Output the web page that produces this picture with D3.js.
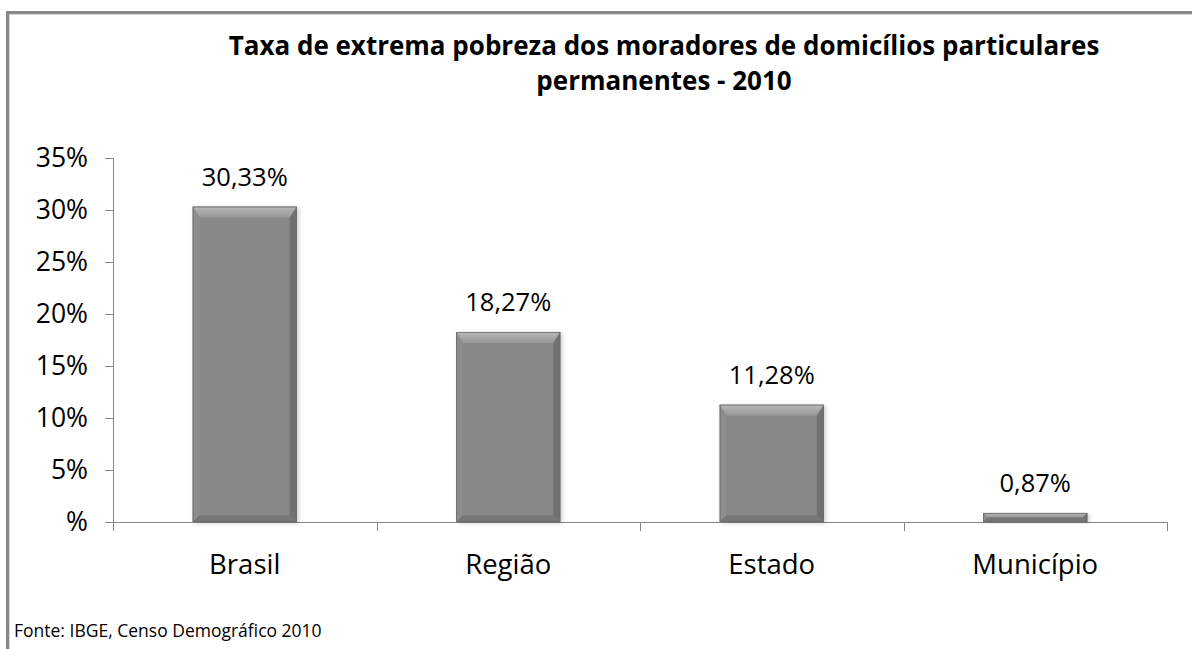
<!DOCTYPE html>
<html><head><meta charset="utf-8">
<script src="https://cdn.jsdelivr.net/npm/d3@7"></script>
<style>body{margin:0;background:#fff}svg{display:block}</style>
</head><body>
<svg id="c" width="1192" height="649"></svg>
<script>
const categories = ["Brasil", "Região", "Estado", "Município"];
const values = [30.33, 18.27, 11.28, 0.87];
const valueLabels = ["30,33%", "18,27%", "11,28%", "0,87%"];
const yTicks = [0, 5, 10, 15, 20, 25, 30, 35];
const yTickLabels = ["%", "5%", "10%", "15%", "20%", "25%", "30%", "35%"];
const titleLines = ["Taxa de extrema pobreza dos moradores de domicílios particulares", "permanentes - 2010"];
const source = "Fonte: IBGE, Censo Demográfico 2010";

const svg = d3.select("#c");
const font = "'Open Sans', 'Noto Sans', sans-serif";

// frame
svg.append("rect").attr("x", 7.5).attr("y", 12.5).attr("width", 1300).attr("height", 800)
  .attr("fill", "none").attr("stroke", "#888").attr("stroke-width", 3);
svg.append("rect").attr("x", 9.5).attr("y", 14.5).attr("width", 1300).attr("height", 800)
  .attr("fill", "none").attr("stroke", "#d8d8d8").attr("stroke-width", 1);

const L = 113, R = 1167, T = 158, B = 522;
const x = d3.scaleBand().domain(categories).range([L, R]).paddingInner(0.605).paddingOuter(0.3025);
const y = d3.scaleLinear().domain([0, 35]).range([B, T]);

// title
svg.append("g").selectAll("text").data(titleLines).join("text")
  .attr("x", 664).attr("y", (d, i) => 55 + i * 35)
  .attr("text-anchor", "middle").attr("font-family", font).attr("font-weight", "bold")
  .attr("font-size", 26).attr("fill", "#000").text(d => d);

// y axis
const yAxis = d3.axisLeft(y).tickValues(yTicks).tickSize(8).tickPadding(17)
  .tickFormat((d, i) => yTickLabels[i]);
const gy = svg.append("g").attr("transform", `translate(${L},0)`).call(yAxis);
gy.select(".domain").attr("stroke", "#868686");
gy.selectAll(".tick line").attr("stroke", "#868686");
gy.selectAll(".tick text").attr("font-family", font).attr("font-size", 26.5).attr("fill", "#000");

// x axis
const xb = d3.scaleLinear().domain([0, categories.length]).range([L, R]);
svg.append("line").attr("x1", L - 8).attr("x2", R).attr("y1", B + 0.5).attr("y2", B + 0.5)
  .attr("stroke", "#868686");
svg.append("g").selectAll("line").data(d3.range(categories.length + 1)).join("line")
  .attr("x1", d => Math.round(xb(d)) + 0.5).attr("x2", d => Math.round(xb(d)) + 0.5)
  .attr("y1", B).attr("y2", B + 9).attr("stroke", "#868686");
svg.append("g").selectAll("text").data(categories).join("text")
  .attr("x", d => x(d) + x.bandwidth() / 2).attr("y", 574)
  .attr("text-anchor", "middle").attr("font-family", font).attr("font-size", 27.5)
  .attr("fill", "#000").text(d => d);

// defs
const defs = svg.append("defs");
const f = defs.append("filter").attr("id", "sh").attr("x", "-10%").attr("y", "-10%").attr("width", "130%").attr("height", "130%");
f.append("feDropShadow").attr("dx", 2).attr("dy", 1).attr("stdDeviation", 2).attr("flood-color", "#000").attr("flood-opacity", 0.2);
const gt = defs.append("linearGradient").attr("id", "gtop").attr("x1", 0).attr("y1", 0).attr("x2", 0).attr("y2", 1);
gt.append("stop").attr("offset", 0).attr("stop-color", "#b8b8b8");
gt.append("stop").attr("offset", 1).attr("stop-color", "#989898");

// bars with bevel
const bw = x.bandwidth();
const gb = svg.append("g").selectAll("g").data(values).join("g")
  .attr("transform", (d, i) => `translate(${x(categories[i])},${y(d)})`);
gb.append("rect").attr("width", bw).attr("height", (d) => B - y(d))
  .attr("fill", "#878787").attr("filter", "url(#sh)");
gb.each(function(d) {
  const h = B - y(d);
  const bt = Math.min(11, h / 2), bs = Math.min(7, h / 2), bb = Math.min(7, h / 2);
  const g = d3.select(this);
  const pts = (a) => a.map(p => p.join(",")).join(" ");
  g.append("polygon").attr("points", pts([[0,0],[bw,0],[bw-bs,bt],[bs,bt]])).attr("fill", "url(#gtop)");
  g.append("polygon").attr("points", pts([[0,0],[bs,bt],[bs,h-bb],[0,h]])).attr("fill", "#8d8d8d");
  g.append("polygon").attr("points", pts([[bw,0],[bw,h],[bw-bs,h-bb],[bw-bs,bt]])).attr("fill", "#707070");
  g.append("polygon").attr("points", pts([[0,h],[bs,h-bb],[bw-bs,h-bb],[bw,h]])).attr("fill", "#777777");
  g.append("rect").attr("x", 0.4).attr("y", 0.4).attr("width", bw - 0.8).attr("height", Math.max(0, h - 0.8))
    .attr("fill", "none").attr("stroke", "#6a6a6a").attr("stroke-width", 0.8);
});

// value labels
svg.append("g").selectAll("text").data(values).join("text")
  .attr("x", (d, i) => x(categories[i]) + bw / 2).attr("y", d => y(d) - 21)
  .attr("text-anchor", "middle").attr("font-family", font).attr("font-size", 25.5)
  .attr("fill", "#000").text((d, i) => valueLabels[i]);

// source
svg.append("text").attr("x", 14).attr("y", 637).attr("font-family", font).attr("font-size", 17.5)
  .attr("fill", "#000").text(source);
</script>
</body></html>
